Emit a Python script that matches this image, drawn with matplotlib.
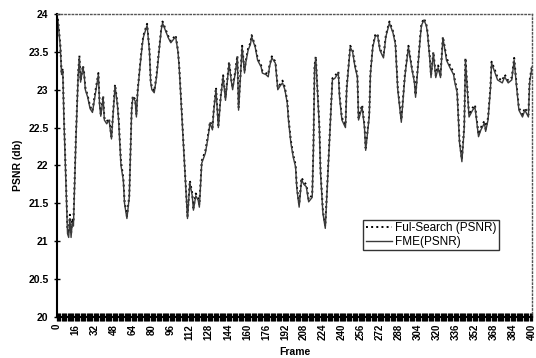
import numpy as np
import matplotlib
matplotlib.use("Agg")
from matplotlib import pyplot as plt

plt.rcParams['font.family'] = ['Liberation Sans', 'DejaVu Sans']

# frames, with PSNR of each run
frames = [0, 1, 3, 4, 5, 6, 8, 9, 10, 11, 12, 13, 14, 16, 18, 19, 20, 22, 23, 24,
          26, 28, 30, 31, 33, 35, 36, 37, 39, 40, 42, 44, 46, 49, 51, 52, 54, 56, 57, 59,
          61, 63, 64, 66, 67, 68, 70, 72, 73, 76, 78, 79, 80, 82, 84, 86, 88, 89, 91, 93,
          94, 96, 98, 100, 102, 103, 105, 108, 110, 112, 114, 115, 117, 119, 120, 122, 125, 127, 129, 131,
          132, 134, 136, 138, 140, 142, 145, 147, 148, 150, 152, 153, 156, 158, 159, 161, 163, 164, 167, 169,
          172, 173, 176, 178, 179, 181, 184, 186, 188, 190, 192, 194, 195, 197, 199, 201, 202, 204, 206, 208,
          210, 212, 215, 216, 217, 218, 221, 222, 224, 226, 227, 230, 232, 234, 237, 238, 240, 243, 244, 247,
          249, 251, 253, 254, 257, 259, 260, 263, 264, 266, 268, 270, 272, 275, 277, 280, 283, 285, 287, 290,
          293, 296, 299, 301, 302, 304, 306, 307, 309, 311, 312, 314, 315, 317, 319, 321, 323, 325, 327, 328,
          331, 334, 335, 337, 339, 341, 343, 344, 347, 350, 352, 355, 357, 360, 361, 363, 365, 366, 369, 371,
          375, 377, 380, 383, 385, 387, 389, 392, 394, 397, 398, 400]

fme = [24.0, 23.9, 23.55, 23.2, 23.25, 22.6, 21.6, 21.1, 21.05, 21.3, 21.05, 21.25, 21.2, 22.3, 23.2, 23.42, 23.1, 23.3, 23.2, 23.0,
       22.9, 22.75, 22.7, 22.8, 23.0, 23.2, 22.8, 22.65, 22.9, 22.6, 22.55, 22.6, 22.35, 23.05, 22.8, 22.6, 22.0, 21.8, 21.5, 21.3,
       21.58, 22.73, 22.9, 22.85, 22.64, 22.96, 23.3, 23.6, 23.7, 23.85, 23.5, 23.1, 23.0, 22.96, 23.17, 23.5, 23.8, 23.88, 23.8, 23.72,
       23.68, 23.62, 23.66, 23.7, 23.5, 23.3, 22.73, 21.85, 21.3, 21.77, 21.6, 21.41, 21.6, 21.54, 21.45, 22.03, 22.16, 22.34, 22.56, 22.47,
       22.7, 23.0, 22.5, 22.9, 23.17, 22.86, 23.35, 23.1, 23.0, 23.2, 23.43, 22.73, 23.56, 23.22, 23.35, 23.52, 23.6, 23.7, 23.56, 23.39,
       23.3, 23.22, 23.2, 23.17, 23.3, 23.42, 23.35, 23.0, 23.05, 23.09, 23.0, 22.82, 22.6, 22.3, 22.11, 21.98, 21.7, 21.45, 21.81, 21.75,
       21.72, 21.52, 21.58, 22.2, 23.3, 23.42, 22.5, 21.9, 21.37, 21.17, 21.5, 22.47, 23.13, 23.15, 23.22, 22.9, 22.6, 22.5, 23.0, 23.56,
       23.5, 23.3, 23.17, 22.6, 22.77, 22.5, 22.2, 22.64, 23.2, 23.56, 23.7, 23.72, 23.52, 23.42, 23.7, 23.88, 23.75, 23.6, 23.0, 22.57,
       23.17, 23.56, 23.26, 23.1, 22.9, 23.3, 23.7, 23.85, 23.92, 23.85, 23.75, 23.4, 23.16, 23.48, 23.16, 23.29, 23.16, 23.68, 23.5, 23.39,
       23.29, 23.2, 23.1, 22.96, 22.3, 22.05, 22.5, 23.39, 22.64, 22.73, 22.77, 22.38, 22.47, 22.56, 22.45, 22.6, 23.0, 23.35, 23.22, 23.13,
       23.09, 23.17, 23.09, 23.13, 23.39, 23.04, 22.73, 22.64, 22.73, 22.64, 23.09, 23.3]

full_search = [24.0, 23.92, 23.58, 23.22, 23.28, 22.65, 21.65, 21.15, 21.1, 21.35, 21.1, 21.3, 21.25, 22.35, 23.22, 23.45, 23.12, 23.32, 23.22, 23.03,
               22.92, 22.78, 22.72, 22.83, 23.03, 23.22, 22.83, 22.68, 22.92, 22.63, 22.58, 22.62, 22.38, 23.07, 22.82, 22.63, 22.05, 21.83, 21.53, 21.33,
               21.6, 22.75, 22.92, 22.87, 22.67, 22.98, 23.32, 23.62, 23.72, 23.87, 23.52, 23.12, 23.03, 22.98, 23.2, 23.52, 23.82, 23.9, 23.82, 23.74,
               23.7, 23.64, 23.68, 23.72, 23.52, 23.32, 22.76, 21.88, 21.33, 21.8, 21.63, 21.44, 21.63, 21.57, 21.48, 22.06, 22.19, 22.37, 22.58, 22.5,
               22.72, 23.03, 22.53, 22.92, 23.19, 22.89, 23.37, 23.12, 23.03, 23.22, 23.45, 22.76, 23.58, 23.25, 23.37, 23.54, 23.62, 23.72, 23.58, 23.42,
               23.32, 23.25, 23.22, 23.2, 23.32, 23.44, 23.37, 23.03, 23.07, 23.12, 23.03, 22.85, 22.63, 22.33, 22.14, 22.01, 21.73, 21.48, 21.84, 21.78,
               21.75, 21.55, 21.61, 22.23, 23.32, 23.44, 22.53, 21.93, 21.4, 21.2, 21.53, 22.5, 23.15, 23.18, 23.24, 22.93, 22.63, 22.53, 23.03, 23.58,
               23.52, 23.33, 23.2, 22.63, 22.8, 22.53, 22.23, 22.67, 23.22, 23.58, 23.72, 23.74, 23.54, 23.44, 23.72, 23.9, 23.77, 23.62, 23.03, 22.6,
               23.2, 23.58, 23.28, 23.13, 22.93, 23.32, 23.72, 23.87, 23.94, 23.87, 23.77, 23.43, 23.19, 23.5, 23.19, 23.32, 23.19, 23.7, 23.52, 23.42,
               23.32, 23.23, 23.13, 22.99, 22.33, 22.08, 22.53, 23.42, 22.67, 22.76, 22.8, 22.41, 22.5, 22.59, 22.48, 22.63, 23.03, 23.37, 23.25, 23.16,
               23.12, 23.2, 23.12, 23.16, 23.42, 23.07, 22.76, 22.67, 22.76, 22.67, 23.12, 23.32]

xtick_labels = list(range(0, 401, 16))
ytick_vals = [20, 20.5, 21, 21.5, 22, 22.5, 23, 23.5, 24]

fig = plt.figure(figsize=(5.36, 3.58), dpi=100)
ax = fig.add_axes([0.106, 0.1145, 0.8865, 0.8465])

ax.plot(frames, full_search, color='black', linestyle=':', linewidth=1.4, label='Ful-Search (PSNR)')
ax.plot(frames, fme, color='#3a3a3a', linestyle='-', linewidth=1.0, label='FME(PSNR)')

ax.set_xlim(0, 400)
ax.set_ylim(20, 24)
ax.set_xticks(xtick_labels)
ax.set_xticklabels([str(v) for v in xtick_labels], rotation=90, fontsize=7, fontweight='bold')
ax.set_xticks(np.arange(0, 401, 1), minor=True)
ax.set_yticks(ytick_vals)
ax.set_yticklabels(['20', '20.5', '21', '21.5', '22', '22.5', '23', '23.5', '24'], fontsize=7.5, fontweight='bold')

ax.tick_params(axis='x', which='both', direction='inout', length=6, width=0.9, pad=2)
ax.tick_params(axis='y', direction='inout', length=5, width=1)

ax.spines['left'].set_linewidth(1.5)
ax.spines['bottom'].set_linewidth(1.5)
for s in ['top', 'right']:
    ax.spines[s].set_linestyle(':')
    ax.spines[s].set_color('#555555')
    ax.spines[s].set_linewidth(1)

ax.set_xlabel('Frame', fontsize=7.5, fontweight='bold', labelpad=5)
ax.set_ylabel('PSNR (db)', fontsize=7.5, fontweight='bold', labelpad=4)

leg = ax.legend(loc='lower left', bbox_to_anchor=(0.645, 0.22), fontsize=8.5, frameon=True,
                fancybox=False, edgecolor='black', handlelength=2.2, borderpad=0.2,
                labelspacing=0.15, handletextpad=0.3, borderaxespad=0)
leg.get_frame().set_linewidth(1)

fig.savefig('out.png', dpi=100)
